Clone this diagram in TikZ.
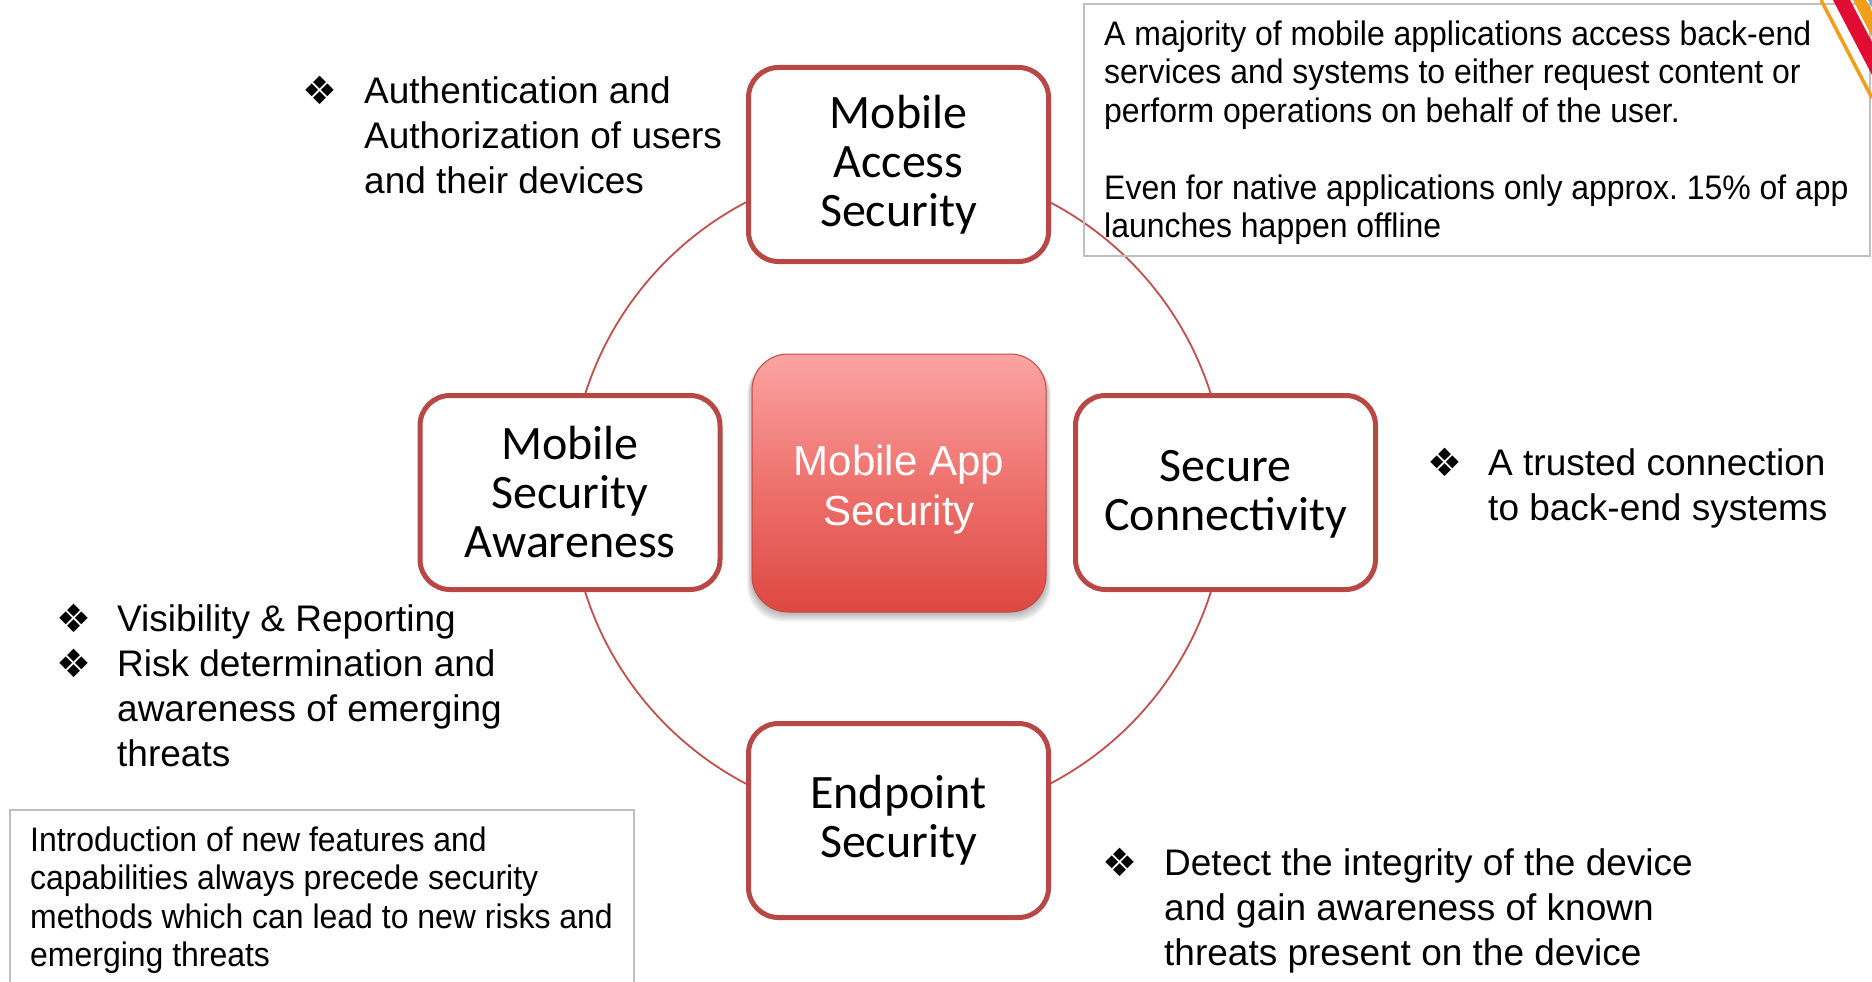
\documentclass[tikz,border=0pt]{standalone}
\usepackage{fontspec}
\setmainfont{Liberation Sans}
\newfontfamily\calfont{Carlito}
\newfontfamily\narrowfont[FakeStretch=0.94]{Liberation Sans}
\newfontfamily\dingfont{DejaVu Sans}
\definecolor{boxred}{RGB}{183,72,70}
\definecolor{ringred}{RGB}{192,80,77}
\definecolor{notegray}{RGB}{191,191,191}
\definecolor{hubtop}{RGB}{252,164,162}
\definecolor{hubmid}{RGB}{238,114,110}
\definecolor{hubbot}{RGB}{221,72,66}
\definecolor{hubedge}{RGB}{200,70,66}
\definecolor{stripered}{RGB}{226,12,50}
\definecolor{stripeorange}{RGB}{242,158,24}
\definecolor{stripeblue}{RGB}{110,175,220}
\begin{document}
\frenchspacing
\begin{tikzpicture}[x=1pt,y=-1pt,
  ringbox/.style={draw=boxred, line width=5pt, fill=white, rounded corners=30pt,
    minimum width=300pt, minimum height=194pt, align=center, inner sep=0pt,
    font=\calfont\fontsize{48}{49}\selectfont},
  hubbox/.style={rounded corners=36pt, top color=hubtop, bottom color=hubbot, middle color=hubmid,
    draw=hubedge, line width=1pt, minimum width=294pt, minimum height=258pt,
    align=center, inner sep=0pt, text=white, font=\fontsize{42}{50}\selectfont},
  bullettext/.style={anchor=north west, inner sep=0pt, align=left, font=\fontsize{37}{45}\selectfont},
  bulletmark/.style={inner sep=0pt, font=\dingfont\fontsize{39}{39}\selectfont},
  notetext/.style={anchor=north west, inner sep=0pt, align=left, font=\narrowfont\fontsize{34}{38.5}\selectfont},
  notebox/.style={draw=notegray, line width=2pt},
  ring/.style={draw=ringred, line width=1.8pt},
]
\useasboundingbox (0,0) rectangle (1872,982);
\fill[white] (0,0) rectangle (1872,982);

% ring behind the boxes
\coordinate (hub) at (898,493);
\draw[ring] (hub) circle[radius=328];

% shadow of the centre box
\foreach \k in {1,...,7}{
  \fill[black, opacity=0.045, rounded corners=36pt] (752-\k*0.7, 356+\k*0.4) rectangle (1046+\k*0.7, 612+\k*1.4);
}
\node[hubbox] (center) at (899,483) {\begin{tabular}{@{}c@{}}\rule{0pt}{49pt}Mobile App\\Security\end{tabular}};

% the four boxes on the ring
\node[ringbox] (mas) at (898.5,164.5) {Mobile\\Access\\Security};
\node[ringbox] (msa) at (570,492.5) {Mobile\\Security\\Awareness};
\node[ringbox] (sc) at (1225.5,492.5) {\begin{tabular}{@{}c@{}}\rule{0pt}{42.5pt}Secure\\Connectivity\end{tabular}};
\node[ringbox] (es) at (898.5,820.5) {Endpoint\\Security};

% bullet texts
\node[bulletmark] (b1) at (320,90) {❖};
\node[bullettext] (t1) at (364,71.5) {\strut Authentication and\\Authorization of users\\and their devices};

\node[bulletmark] (b2) at (1445,462) {❖};
\node[bullettext] (t2) at (1488,443.5) {\strut A trusted connection\\to back-end systems};

\node[bulletmark] (b3) at (74,618) {❖};
\node[bullettext] (t3) at (117,599.5) {\strut Visibility \& Reporting};
\node[bulletmark] (b4) at (74,663) {❖};
\node[bullettext] (t4) at (117,644.5) {\strut Risk determination and\\awareness of emerging\\threats};

\node[bulletmark] (b5) at (1120,862) {❖};
\node[bullettext] (t5) at (1164,843.5) {\strut Detect the integrity of the device\\and gain awareness of known\\threats present on the device};

% note boxes
\draw[notebox] (1084,4) rectangle (1870,256);
\node[notetext] (n1) at (1104,18) {\strut A majority of mobile applications access back-end\\services and systems to either request content or\\perform operations on behalf of the user.\\[38.5pt]Even for native applications only approx. 15\% of app\\launches happen offline};

\draw[notebox] (10,982) -- (10,810) -- (634,810) -- (634,982);
\node[notetext] (n2) at (30,824) {\strut Introduction of new features and\\capabilities always precede security\\methods which can lead to new risks and\\emerging threats};

% corner stripes
\fill[stripered] (1833,0) -- (1850,0) -- (1872,42) -- (1872,75) -- cycle;
\fill[stripeorange] (1853,0) -- (1866,0) -- (1872,11.5) -- (1872,36.5) -- cycle;
\fill[stripeblue] (1868,0) -- (1872,0) -- (1872,7) -- cycle;
\draw[stripeorange, line width=3.5pt] (1821,0) -- (1872,98);
\end{tikzpicture}
\end{document}
